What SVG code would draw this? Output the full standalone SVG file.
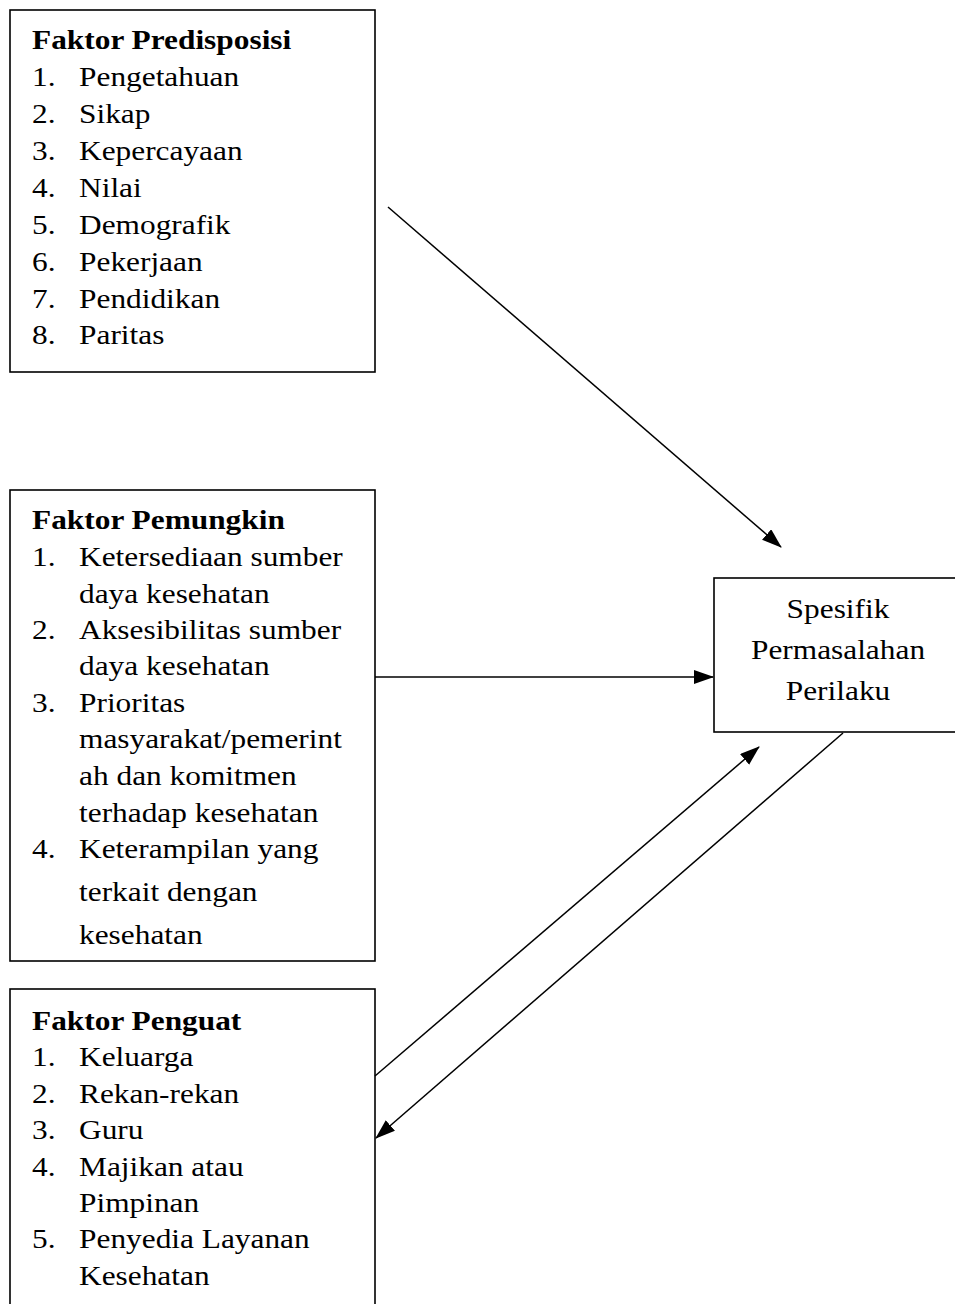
<svg xmlns="http://www.w3.org/2000/svg" width="955" height="1304" viewBox="0 0 955 1304">
<style>
.box{fill:#fff;stroke:#000;stroke-width:1.6}
.t{font-family:"Liberation Serif","Times New Roman",serif;font-size:28px;fill:#000}
.h{font-weight:bold}
.c{fill:none;stroke:#000;stroke-width:1.5}
</style>
<defs>
<marker id="ah" markerUnits="userSpaceOnUse" markerWidth="20" markerHeight="16" refX="19" refY="7" orient="auto">
<path d="M0,0 L20,7 L0,14 z" fill="#000"/>
</marker>
</defs>
<rect width="955" height="1304" fill="#fff"/>
<g id="predisposisi">
<rect class="box" x="10" y="10" width="365" height="362"/>
<g class="t" transform="translate(32,0) scale(1.12,1)">
<text class="h" x="0" y="49">Faktor Predisposisi</text>
<text x="0" y="86">1.</text><text x="42" y="86">Pengetahuan</text>
<text x="0" y="123">2.</text><text x="42" y="123">Sikap</text>
<text x="0" y="160">3.</text><text x="42" y="160">Kepercayaan</text>
<text x="0" y="197">4.</text><text x="42" y="197">Nilai</text>
<text x="0" y="234">5.</text><text x="42" y="234">Demografik</text>
<text x="0" y="271">6.</text><text x="42" y="271">Pekerjaan</text>
<text x="0" y="308">7.</text><text x="42" y="308">Pendidikan</text>
<text x="0" y="344">8.</text><text x="42" y="344">Paritas</text>
</g>
</g>
<g id="pemungkin">
<rect class="box" x="10" y="490" width="365" height="471"/>
<g class="t" transform="translate(32,0) scale(1.12,1)">
<text class="h" x="0" y="529">Faktor Pemungkin</text>
<text x="0" y="566">1.</text><text x="42" y="566">Ketersediaan sumber</text>
<text x="42" y="603">daya kesehatan</text>
<text x="0" y="639">2.</text><text x="42" y="639">Aksesibilitas sumber</text>
<text x="42" y="675">daya kesehatan</text>
<text x="0" y="712">3.</text><text x="42" y="712">Prioritas</text>
<text x="42" y="748">masyarakat/pemerint</text>
<text x="42" y="785">ah dan komitmen</text>
<text x="42" y="822">terhadap kesehatan</text>
<text x="0" y="858">4.</text><text x="42" y="858">Keterampilan yang</text>
<text x="42" y="901">terkait dengan</text>
<text x="42" y="944">kesehatan</text>
</g>
</g>
<g id="penguat">
<rect class="box" x="10" y="989" width="365" height="330"/>
<g class="t" transform="translate(32,0) scale(1.12,1)">
<text class="h" x="0" y="1030">Faktor Penguat</text>
<text x="0" y="1066">1.</text><text x="42" y="1066">Keluarga</text>
<text x="0" y="1103">2.</text><text x="42" y="1103">Rekan-rekan</text>
<text x="0" y="1139">3.</text><text x="42" y="1139">Guru</text>
<text x="0" y="1176">4.</text><text x="42" y="1176">Majikan atau</text>
<text x="42" y="1212">Pimpinan</text>
<text x="0" y="1248">5.</text><text x="42" y="1248">Penyedia Layanan</text>
<text x="42" y="1285">Kesehatan</text>
</g>
</g>
<g id="spesifik">
<rect class="box" x="714" y="578" width="250" height="154"/>
<g class="t" transform="translate(838,0) scale(1.12,1)" text-anchor="middle">
<text x="0" y="618">Spesifik</text>
<text x="0" y="659">Permasalahan</text>
<text x="0" y="700">Perilaku</text>
</g>
</g>
<g id="connectors">
<line class="c" x1="388" y1="207" x2="781" y2="547" marker-end="url(#ah)"/>
<line class="c" x1="375" y1="677" x2="713" y2="677" marker-end="url(#ah)"/>
<line class="c" x1="375" y1="1076" x2="759" y2="747" marker-end="url(#ah)"/>
<line class="c" x1="843" y1="733" x2="376" y2="1138" marker-end="url(#ah)"/>
</g>
</svg>
